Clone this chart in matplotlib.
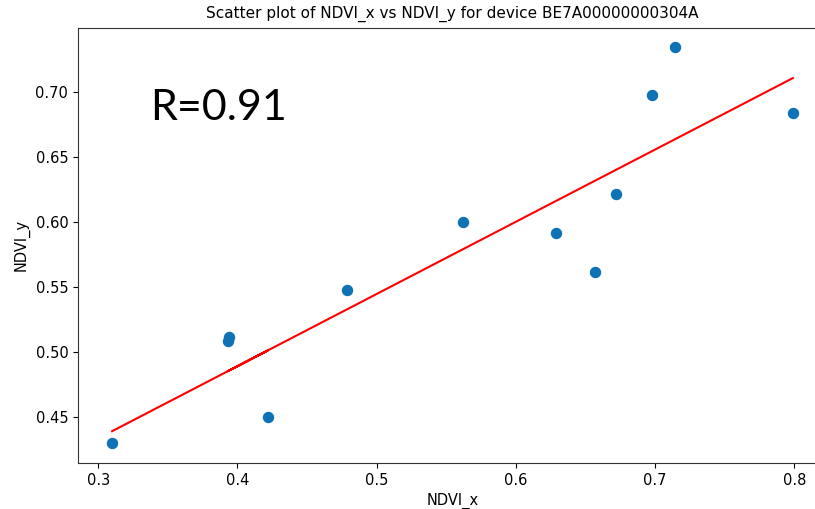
import matplotlib
matplotlib.use("Agg")
import matplotlib.pyplot as plt
import numpy as np

# NDVI readings for device BE7A00000000304A (order as recorded)
ndvi_x = [0.310, 0.422, 0.394, 0.393, 0.479, 0.562, 0.629, 0.657, 0.672, 0.698, 0.714, 0.799]
ndvi_y = [0.430, 0.450, 0.512, 0.509, 0.548, 0.600, 0.592, 0.562, 0.622, 0.698, 0.735, 0.684]
r_label = "R=0.91"
device = "BE7A00000000304A"


def main() -> None:
    x = np.asarray(ndvi_x)
    y = np.asarray(ndvi_y)
    m, b = np.polyfit(x, y, 1)

    fig = plt.figure(figsize=(8.15, 5.09), dpi=100)
    # the original screenshot crops the right part of the axes
    ax = fig.add_axes([0.0957, 0.0904, 0.919, 0.855])
    ax.scatter(x, y, s=52, color="#0f72b4")
    ax.plot(x, m * x + b, color="red", linewidth=1.5)

    ax.set_xlim(0.2855, 0.8235)
    ax.set_ylim(0.4148, 0.7495)
    ax.set_yticks([0.45, 0.50, 0.55, 0.60, 0.65, 0.70])
    ax.set_yticklabels([f"{t:.2f}" for t in ax.get_yticks()])
    ax.tick_params(labelsize=10.5)
    for s in ax.spines.values():
        s.set_color("#333333")

    ax.set_title(f"Scatter plot of NDVI_x vs NDVI_y for device {device}", fontsize=11, pad=7)
    ax.set_xlabel("NDVI_x", fontsize=10.5)
    ax.set_ylabel("NDVI_y", fontsize=10.5)
    ax.text(0.096, 0.816, r_label, transform=ax.transAxes, fontsize=31,
            family=["Lato", "DejaVu Sans"], va="center", ha="left")

    fig.savefig("out.png", dpi=100)


if __name__ == "__main__":
    main()
